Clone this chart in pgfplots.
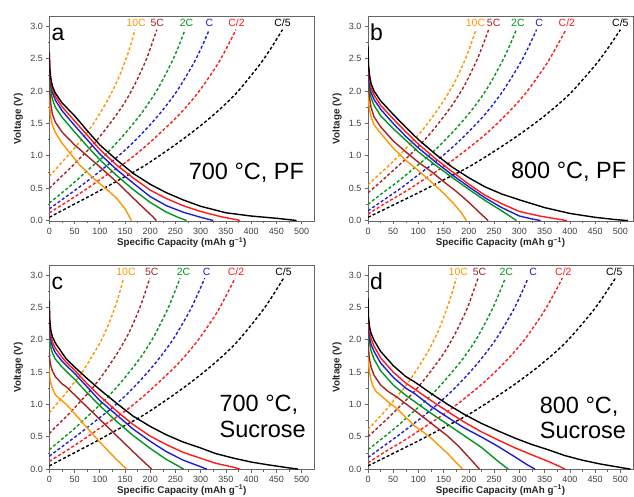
\documentclass[border=0pt]{standalone}
\usepackage{fontspec}
\setmainfont{Liberation Sans}
\usepackage{pgfplots}
\pgfplotsset{compat=1.18}
\definecolor{corange}{RGB}{255,150,0}
\definecolor{cbrown}{RGB}{165,35,35}
\definecolor{cgreen}{RGB}{0,150,30}
\definecolor{cblue}{RGB}{30,30,210}
\definecolor{cred}{RGB}{255,25,25}
\pgfplotsset{
  panel/.style={
    scale only axis, width=265pt, height=204.5pt,
    xmin=0, xmax=525, ymin=-0.01, ymax=3.15,
    xtick={0,50,...,500}, ytick={0,0.5,...,3},
    minor x tick num=1, minor y tick num=1,
    tick align=outside, tick pos=left,
    major tick length=3pt, minor tick length=1.8pt,
    axis line style={draw=black!60, line width=0.8pt},
    every tick/.style={black!60, line width=0.7pt},
    tick label style={font=\fontsize{9}{10}\selectfont, text=black!75},
    xticklabel style={yshift=-0.3pt},
    /pgf/number format/assume math mode=true,
    yticklabel style={/pgf/number format/fixed, /pgf/number format/fixed zerofill, /pgf/number format/precision=1},
    xlabel={\textbf{Specific Capacity (mAh g\textsuperscript{−1})}},
    ylabel={\textbf{Voltage (V)}},
    label style={font=\fontsize{9.8}{11}\selectfont, text=black!85},
    xlabel style={at={([yshift=-21.5pt]axis description cs:0.5,0)}, anchor=center},
    ylabel style={at={([xshift=-31pt]axis description cs:0,0.5)}, anchor=center},
    every axis plot/.append style={line width=1.4pt},
  },
}
\tikzset{
  dsh/.style={dash pattern=on 3pt off 2.2pt},
  lbl/.style={anchor=base, font=\fontsize{10.5}{12}\selectfont, inner sep=0pt},
  big/.style={inner sep=0pt, font=\fontsize{23.5}{28}\selectfont},
  letter/.style={anchor=base west, inner sep=0pt, font=\fontsize{23}{26}\selectfont},
}
\begin{document}
\begin{tikzpicture}
\path[use as bounding box] (0,0) rectangle (634pt,-496pt);
% ---------------- panel a ----------------
\begin{axis}[panel, at={(49.3pt,-16.7pt)}, anchor=north west]
\addplot[corange,dsh,smooth] coordinates {(0,0.68)(17,0.83)(34,0.98)(51,1.13)(68,1.29)(85,1.47)(102,1.68)(119,1.91)(136,2.18)(153,2.52)(161.5,2.72)(170,2.95)};
\addplot[cbrown,dsh,smooth] coordinates {(0,0.5)(21.3,0.66)(42.6,0.82)(63.9,0.99)(85.2,1.16)(106.5,1.36)(127.8,1.58)(149.1,1.82)(170.4,2.12)(191.7,2.48)(202.4,2.71)(213,2.95)};
\addplot[cgreen,dsh,smooth] coordinates {(0,0.27)(26.9,0.44)(53.8,0.62)(80.7,0.81)(107.6,0.99)(134.5,1.21)(161.4,1.45)(188.3,1.72)(215.2,2.04)(242.1,2.44)(255.6,2.68)(269,2.95)};
\addplot[cblue,dsh,smooth] coordinates {(0,0.18)(31.7,0.36)(63.4,0.54)(95.1,0.73)(126.8,0.93)(158.5,1.15)(190.2,1.40)(221.9,1.68)(253.6,2.01)(285.3,2.42)(301.2,2.67)(317,2.95)};
\addplot[cred,dsh,smooth] coordinates {(0,0.12)(37,0.30)(74,0.49)(111,0.69)(148,0.88)(185,1.11)(222,1.37)(259,1.65)(296,1.99)(333,2.41)(351.5,2.67)(370,2.95)};
\addplot[black,dsh,smooth] coordinates {(0,0.05)(46.2,0.24)(92.4,0.43)(138.6,0.63)(184.8,0.83)(231,1.07)(277.2,1.33)(323.4,1.62)(369.6,1.96)(415.8,2.40)(438.9,2.66)(462,2.95)};
\addplot[corange] coordinates {(0,1.95)(1,1.75)(3,1.6)(6,1.48)(12,1.36)(25,1.2)(40,1.05)(60,0.86)(88,0.65)(100,0.57)(120,0.44)(135,0.33)(150,0.18)(163,0)};
\addplot[cbrown] coordinates {(0,2.25)(1,2.0)(3,1.8)(6,1.65)(12,1.52)(25,1.37)(50,1.17)(75,1.0)(100,0.83)(133,0.6)(166,0.35)(190,0.17)(205,0.06)(212,0)};
\addplot[cgreen] coordinates {(0,2.4)(1,2.15)(3,2.0)(6,1.88)(12,1.75)(25,1.6)(50,1.37)(75,1.15)(100,0.94)(133,0.7)(166,0.48)(200,0.28)(232,0.13)(255,0.05)(272,0)};
\addplot[cblue] coordinates {(0,2.5)(1,2.25)(3,2.1)(6,1.98)(12,1.86)(25,1.7)(50,1.47)(75,1.25)(100,1.03)(133,0.79)(166,0.58)(200,0.37)(232,0.23)(265,0.13)(300,0.05)(325,0)};
\addplot[cred] coordinates {(0,2.55)(1,2.3)(3,2.15)(6,2.03)(12,1.92)(25,1.76)(50,1.54)(75,1.32)(100,1.1)(133,0.86)(166,0.66)(200,0.47)(232,0.34)(265,0.23)(300,0.14)(340,0.06)(370,0.015)(378,0)};
\addplot[black] coordinates {(0,2.6)(1,2.35)(3,2.2)(6,2.08)(12,1.97)(25,1.82)(50,1.62)(75,1.39)(100,1.17)(133,0.94)(166,0.73)(200,0.56)(232,0.43)(265,0.32)(300,0.22)(350,0.12)(400,0.07)(450,0.035)(480,0.01)(490,0)};
\node[lbl,corange] at (axis cs:172,3.0) {10C};
\node[lbl,cbrown] at (axis cs:214,3.0) {5C};
\node[lbl,cgreen] at (axis cs:272,3.0) {2C};
\node[lbl,cblue] at (axis cs:317,3.0) {C};
\node[lbl,cred] at (axis cs:371,3.0) {C/2};
\node[lbl,black] at (axis cs:462,3.0) {C/5};
\node[letter] at (axis cs:4,2.78) {a};
\node[big,anchor=base east] at (axis cs:505,0.63) {700 °C, PF};
\end{axis}
% ---------------- panel b ----------------
\begin{axis}[panel, at={(368pt,-16.7pt)}, anchor=north west]
\addplot[corange,dsh,smooth] coordinates {(0,0.55)(21.4,0.71)(42.8,0.86)(64.2,1.03)(85.6,1.20)(107,1.39)(128.4,1.61)(149.8,1.85)(171.2,2.13)(192.6,2.49)(203.3,2.71)(214,2.95)};
\addplot[cbrown,dsh,smooth] coordinates {(0,0.43)(23.9,0.59)(47.8,0.76)(71.7,0.93)(95.6,1.11)(119.5,1.31)(143.4,1.54)(167.3,1.79)(191.2,2.09)(215.1,2.47)(227,2.70)(239,2.95)};
\addplot[cgreen,dsh,smooth] coordinates {(0,0.25)(29.4,0.43)(58.8,0.60)(88.2,0.79)(117.6,0.98)(147,1.20)(176.4,1.44)(205.8,1.71)(235.2,2.03)(264.6,2.44)(279.3,2.68)(294,2.95)};
\addplot[cblue,dsh,smooth] coordinates {(0,0.15)(33.4,0.33)(66.8,0.51)(100.2,0.71)(133.6,0.91)(167,1.13)(200.4,1.38)(233.8,1.66)(267.2,2.0)(300.6,2.42)(317.3,2.67)(334,2.95)};
\addplot[cred,dsh,smooth] coordinates {(0,0.1)(39.2,0.29)(78.4,0.47)(117.6,0.67)(156.8,0.87)(196,1.10)(235.2,1.35)(274.4,1.64)(313.6,1.98)(352.8,2.41)(372.4,2.67)(392,2.95)};
\addplot[black,dsh,smooth] coordinates {(0,0.05)(50,0.24)(100,0.43)(150,0.63)(200,0.83)(250,1.07)(300,1.33)(350,1.62)(400,1.96)(450,2.40)(475,2.66)(500,2.95)};
\addplot[corange] coordinates {(0,2.0)(1,1.85)(3,1.72)(6,1.6)(12,1.48)(25,1.35)(50,1.12)(75,0.93)(100,0.77)(125,0.6)(150,0.42)(170,0.26)(185,0.12)(195,0)};
\addplot[cbrown] coordinates {(0,2.3)(1,2.05)(3,1.9)(6,1.75)(12,1.6)(25,1.45)(50,1.23)(75,1.06)(100,0.9)(125,0.76)(150,0.6)(175,0.45)(200,0.28)(220,0.13)(238,0)};
\addplot[cgreen] coordinates {(0,2.4)(1,2.15)(3,2.02)(6,1.9)(12,1.78)(25,1.62)(50,1.42)(75,1.24)(100,1.06)(133,0.86)(166,0.67)(200,0.48)(232,0.31)(265,0.15)(294,0)};
\addplot[cblue] coordinates {(0,2.5)(1,2.25)(3,2.1)(6,1.98)(12,1.87)(25,1.72)(50,1.5)(75,1.3)(100,1.12)(133,0.91)(166,0.71)(200,0.52)(232,0.35)(265,0.2)(300,0.07)(325,0.025)(342,0)};
\addplot[cred] coordinates {(0,2.6)(1,2.35)(3,2.18)(6,2.05)(12,1.94)(25,1.78)(50,1.57)(75,1.37)(100,1.18)(133,0.96)(166,0.76)(200,0.56)(232,0.39)(265,0.26)(300,0.14)(340,0.07)(370,0.03)(394,0)};
\addplot[black] coordinates {(0,2.7)(1,2.4)(3,2.25)(6,2.12)(12,2.0)(25,1.85)(50,1.64)(75,1.44)(100,1.25)(133,1.03)(166,0.83)(200,0.66)(232,0.52)(265,0.41)(300,0.32)(350,0.2)(400,0.11)(450,0.05)(490,0.015)(515,0)};
\node[lbl,corange] at (axis cs:213,3.0) {10C};
\node[lbl,cbrown] at (axis cs:249,3.0) {5C};
\node[lbl,cgreen] at (axis cs:297,3.0) {2C};
\node[lbl,cblue] at (axis cs:339,3.0) {C};
\node[lbl,cred] at (axis cs:394,3.0) {C/2};
\node[lbl,black] at (axis cs:500,3.0) {C/5};
\node[letter] at (axis cs:4,2.78) {b};
\node[big,anchor=base east] at (axis cs:512,0.655) {800 °C, PF};
\end{axis}
% ---------------- panel c ----------------
\begin{axis}[panel, at={(49.3pt,-265.3pt)}, anchor=north west, xlabel style={at={([yshift=-20.3pt]axis description cs:0.5,0)}}]
\addplot[corange,dsh,smooth] coordinates {(0,0.87)(14.7,1.01)(29.4,1.14)(44.1,1.29)(58.8,1.43)(73.5,1.60)(88.2,1.79)(102.9,1.99)(117.6,2.24)(132.3,2.55)(139.7,2.74)(147,2.95)};
\addplot[cbrown,dsh,smooth] coordinates {(0,0.55)(19.9,0.71)(39.8,0.86)(59.7,1.03)(79.6,1.20)(99.5,1.39)(119.4,1.61)(139.3,1.85)(159.2,2.13)(179.1,2.49)(189,2.71)(199,2.95)};
\addplot[cgreen,dsh,smooth] coordinates {(0,0.3)(25.9,0.47)(51.8,0.64)(77.7,0.83)(103.6,1.02)(129.5,1.23)(155.4,1.47)(181.3,1.73)(207.2,2.05)(233.1,2.45)(246,2.69)(259,2.95)};
\addplot[cblue,dsh,smooth] coordinates {(0,0.2)(30.8,0.38)(61.6,0.56)(92.4,0.75)(123.2,0.94)(154,1.16)(184.8,1.41)(215.6,1.69)(246.4,2.02)(277.2,2.43)(292.6,2.68)(308,2.95)};
\addplot[cred,dsh,smooth] coordinates {(0,0.12)(36.8,0.30)(73.6,0.49)(110.4,0.69)(147.2,0.88)(184,1.11)(220.8,1.37)(257.6,1.65)(294.4,1.99)(331.2,2.41)(349.6,2.67)(368,2.95)};
\addplot[black,dsh,smooth] coordinates {(0,0.05)(46.4,0.24)(92.8,0.43)(139.2,0.63)(185.6,0.83)(232,1.07)(278.4,1.33)(324.8,1.62)(371.2,1.96)(417.6,2.40)(440.8,2.66)(464,2.95)};
\addplot[corange] coordinates {(0,1.55)(1,1.42)(3,1.33)(6,1.25)(12,1.15)(20,1.09)(34,1.0)(50,0.86)(67,0.71)(85,0.55)(100,0.42)(118,0.27)(133,0.15)(145,0.06)(153,0)};
\addplot[cbrown] coordinates {(0,1.85)(1,1.7)(3,1.6)(6,1.52)(12,1.43)(25,1.32)(34,1.27)(50,1.15)(67,1.02)(100,0.77)(133,0.52)(166,0.27)(185,0.13)(203,0)};
\addplot[cgreen] coordinates {(0,2.2)(1,2.0)(3,1.88)(6,1.8)(12,1.7)(25,1.58)(34,1.51)(50,1.39)(75,1.18)(100,0.98)(133,0.74)(166,0.52)(200,0.32)(232,0.15)(255,0.05)(266,0)};
\addplot[cblue] coordinates {(0,2.35)(1,2.12)(3,2.0)(6,1.9)(12,1.8)(25,1.67)(34,1.6)(50,1.48)(75,1.27)(100,1.06)(133,0.84)(166,0.62)(200,0.43)(232,0.27)(265,0.14)(299,0.04)(312,0)};
\addplot[cred] coordinates {(0,2.45)(1,2.2)(3,2.07)(6,1.97)(12,1.87)(25,1.73)(34,1.65)(50,1.53)(75,1.32)(100,1.13)(133,0.9)(166,0.69)(200,0.51)(232,0.38)(265,0.26)(299,0.17)(330,0.09)(365,0.03)(378,0)};
\addplot[black] coordinates {(0,2.6)(1,2.3)(3,2.15)(6,2.05)(12,1.95)(25,1.8)(34,1.7)(50,1.58)(75,1.4)(100,1.23)(133,1.02)(166,0.82)(200,0.66)(232,0.53)(265,0.42)(299,0.33)(330,0.24)(365,0.17)(400,0.11)(431,0.07)(470,0.025)(493,0)};
\node[lbl,corange] at (axis cs:152,3.0) {10C};
\node[lbl,cbrown] at (axis cs:203,3.0) {5C};
\node[lbl,cgreen] at (axis cs:266,3.0) {2C};
\node[lbl,cblue] at (axis cs:312,3.0) {C};
\node[lbl,cred] at (axis cs:370,3.0) {C/2};
\node[lbl,black] at (axis cs:464,3.0) {C/5};
\node[letter] at (axis cs:4,2.78) {c};
\node[big,anchor=base west] at (axis cs:337,0.894) {700 °C,};
\node[big,anchor=base west] at (axis cs:337,0.486) {Sucrose};
\end{axis}
% ---------------- panel d ----------------
\begin{axis}[panel, at={(368pt,-265.3pt)}, anchor=north west, xlabel style={at={([yshift=-20.3pt]axis description cs:0.5,0)}}]
\addplot[corange,dsh,smooth] coordinates {(0,0.61)(17.5,0.76)(35,0.91)(52.5,1.08)(70,1.24)(87.5,1.43)(105,1.64)(122.5,1.87)(140,2.15)(157.5,2.51)(166.3,2.72)(175,2.95)};
\addplot[cbrown,dsh,smooth] coordinates {(0,0.5)(21.8,0.66)(43.6,0.82)(65.4,0.99)(87.2,1.16)(109,1.36)(130.8,1.58)(152.6,1.82)(174.4,2.12)(196.2,2.48)(207.1,2.71)(218,2.95)};
\addplot[cgreen,dsh,smooth] coordinates {(0,0.3)(27.2,0.47)(54.4,0.64)(81.6,0.83)(108.8,1.02)(136,1.23)(163.2,1.47)(190.4,1.73)(217.6,2.05)(244.8,2.45)(258.4,2.69)(272,2.95)};
\addplot[cblue,dsh,smooth] coordinates {(0,0.18)(31.7,0.36)(63.4,0.54)(95.1,0.73)(126.8,0.93)(158.5,1.15)(190.2,1.40)(221.9,1.68)(253.6,2.01)(285.3,2.42)(301.2,2.67)(317,2.95)};
\addplot[cred,dsh,smooth] coordinates {(0,0.1)(38.5,0.29)(77,0.47)(115.5,0.67)(154,0.87)(192.5,1.10)(231,1.35)(269.5,1.64)(308,1.98)(346.5,2.41)(365.8,2.67)(385,2.95)};
\addplot[black,dsh,smooth] coordinates {(0,0.05)(49,0.24)(98,0.43)(147,0.63)(196,0.83)(245,1.07)(294,1.33)(343,1.62)(392,1.96)(441,2.40)(465.5,2.66)(490,2.95)};
\addplot[corange] coordinates {(0,1.85)(1,1.65)(3,1.5)(6,1.38)(10,1.28)(16,1.2)(25,1.14)(40,1.04)(58,0.93)(75,0.8)(92,0.67)(110,0.57)(125,0.48)(140,0.37)(158,0.24)(175,0.1)(188,0)};
\addplot[cbrown] coordinates {(0,2.05)(1,1.85)(3,1.7)(6,1.58)(12,1.45)(25,1.3)(40,1.2)(58,1.11)(75,1.01)(92,0.91)(125,0.71)(158,0.51)(180,0.35)(200,0.18)(221,0)};
\addplot[cgreen] coordinates {(0,2.3)(1,2.08)(3,1.95)(6,1.83)(12,1.7)(25,1.52)(50,1.3)(75,1.14)(100,1.0)(133,0.82)(158,0.69)(190,0.52)(224,0.34)(258,0.12)(278,0)};
\addplot[cblue] coordinates {(0,2.4)(1,2.17)(3,2.04)(6,1.93)(12,1.82)(25,1.64)(50,1.42)(75,1.25)(92,1.17)(125,0.97)(158,0.8)(190,0.64)(224,0.5)(258,0.35)(291,0.19)(315,0.07)(331,0)};
\addplot[cred] coordinates {(0,2.5)(1,2.25)(3,2.12)(6,2.02)(12,1.9)(25,1.72)(50,1.5)(75,1.33)(92,1.24)(125,1.06)(158,0.89)(190,0.73)(224,0.58)(258,0.45)(291,0.33)(325,0.22)(357,0.12)(380,0.04)(390,0)};
\addplot[black] coordinates {(0,2.65)(1,2.35)(3,2.2)(6,2.1)(12,1.99)(25,1.82)(50,1.6)(75,1.43)(92,1.35)(125,1.17)(158,1.0)(190,0.85)(224,0.71)(258,0.59)(291,0.48)(325,0.38)(357,0.3)(390,0.21)(424,0.14)(460,0.08)(490,0.04)(520,0)};
\node[lbl,corange] at (axis cs:179,3.0) {10C};
\node[lbl,cbrown] at (axis cs:221,3.0) {5C};
\node[lbl,cgreen] at (axis cs:274,3.0) {2C};
\node[lbl,cblue] at (axis cs:327,3.0) {C};
\node[lbl,cred] at (axis cs:387,3.0) {C/2};
\node[lbl,black] at (axis cs:488,3.0) {C/5};
\node[letter] at (axis cs:4,2.78) {d};
\node[big,anchor=base west] at (axis cs:340,0.867) {800 °C,};
\node[big,anchor=base west] at (axis cs:340,0.48) {Sucrose};
\end{axis}
\end{tikzpicture}
\end{document}
